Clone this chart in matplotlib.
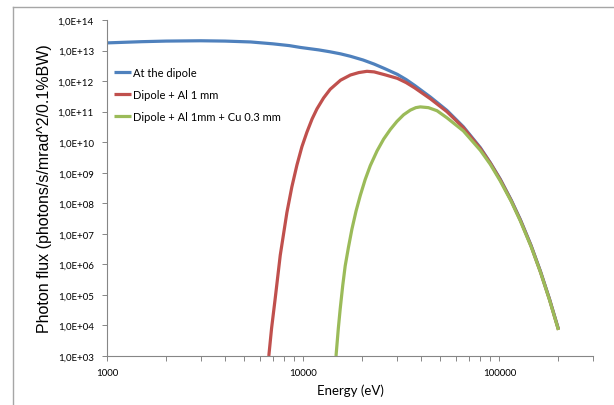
import matplotlib

matplotlib.use("Agg")
import matplotlib.pyplot as plt
import numpy as np
from matplotlib.lines import Line2D
from matplotlib.ticker import FixedLocator, FuncFormatter, LogLocator, NullFormatter

# values (energy in eV, flux in photons/s/mrad^2/0.1%BW)
e_dipole = [1000, 1500, 2000, 3000, 4000, 5400, 7000, 8500, 9700, 12000, 13700,
            15500, 17400, 20200, 23000, 26000, 30200, 33500, 37000, 44500, 54000,
            65500, 80000, 90000, 101000, 115000, 128000, 145000, 162000, 180000,
            200000]
f_dipole = [1.78e13, 1.95e13, 2.04e13, 2.09e13, 2.04e13, 1.91e13, 1.66e13, 1.45e13,
            1.26e13, 1.05e13, 9.1e12, 7.8e12, 6.5e12, 4.9e12, 3.6e12, 2.57e12,
            1.66e12, 1.12e12, 7.2e11, 3.0e11, 1.1e11, 3.2e10, 6.6e9, 2.1e9, 6.2e8,
            1.26e8, 2.9e7, 4.2e6, 5.9e5, 7.4e4, 7.6e3]

e_al = [6680, 6900, 7190, 7640, 8260, 8750, 9290, 9850, 10450, 11100, 11750,
        12700, 13730, 15500, 17400, 19200, 21130, 23000, 26000, 30200, 33500,
        37000, 44500, 54000, 65500, 80000, 90000, 101000, 115000, 128000, 145000,
        162000, 180000, 200000]
f_al = [1.0e3, 8.1e3, 7.1e4, 2.0e6, 5.0e7, 3.4e8, 1.78e9, 7.1e9, 2.14e10, 5.75e10,
        1.23e11, 2.8e11, 5.4e11, 1.07e12, 1.58e12, 1.9e12, 2.09e12, 2.0e12, 1.62e12,
        1.23e12, 8.9e11, 6.0e11, 2.63e11, 1.0e11, 2.99e10, 6.2e9, 2.04e9, 5.9e8,
        1.2e8, 2.75e7, 4.0e6, 5.6e5, 7.1e4, 7.2e3]

e_cu = [14700, 15100, 15440, 15900, 16370, 17000, 17710, 18600, 19530, 20700,
        21970, 23800, 25700, 27800, 30060, 32500, 35150, 37500, 39540, 43500, 48100,
        54000, 65500, 80000, 90000, 101000, 115000, 128000, 145000, 162000, 180000,
        200000]
f_cu = [1.0e3, 7.9e3, 3.5e4, 2.0e5, 8.9e5, 3.55e6, 1.41e7, 5.6e7, 1.78e8, 6.0e8,
        1.7e9, 5.2e9, 1.26e10, 2.6e10, 4.8e10, 7.9e10, 1.12e11, 1.35e11, 1.43e11,
        1.35e11, 1.07e11, 6.3e10, 2.34e10, 5.4e9, 1.86e9, 5.4e8, 1.14e8, 2.6e7,
        3.85e6, 5.5e5, 6.9e4, 7.1e3]

labels = ["At the dipole", "Dipole + Al 1 mm", "Dipole + Al 1mm + Cu 0.3 mm"]
colors = ["#4F81BD", "#C0504D", "#9BBB59"]
y_ticks = [10.0 ** k for k in range(3, 15)]
x_ticks = [1000, 10000, 100000]

GREY = "#868686"
TICK_FONT = ["Lato", "DejaVu Sans"]

fig = plt.figure(figsize=(6.14, 4.06), dpi=100)
# chart-area frame, cut off at the right and bottom like the screenshot
fx, fy = 12.5 / 614, 1 - 7.5 / 406
fig.add_artist(Line2D([fx, 1.0], [fy, fy], transform=fig.transFigure, color="#A6A6A6", lw=1.0))
fig.add_artist(Line2D([fx, fx], [0.0, fy], transform=fig.transFigure, color="#A6A6A6", lw=1.0))

ax = fig.add_axes([107 / 614, 1 - 357 / 406, (593 - 107) / 614, (357 - 21) / 406])

for (e, f), lab, c in zip([(e_dipole, f_dipole), (e_al, f_al), (e_cu, f_cu)], labels, colors):
    ax.plot(e, f, color=c, lw=2.3, label=lab, solid_capstyle="butt")

ax.set_xscale("log")
ax.set_yscale("log")
ax.set_xlim(1000, 300000)
ax.set_ylim(1e3, 1e14)

ax.yaxis.set_major_locator(FixedLocator(y_ticks))
ax.yaxis.set_minor_locator(FixedLocator([]))
ax.yaxis.set_major_formatter(FuncFormatter(lambda v, p: f"1,0E+{int(round(np.log10(v))):02d}"))
ax.xaxis.set_major_locator(FixedLocator(x_ticks))
ax.xaxis.set_minor_locator(LogLocator(base=10, subs=np.arange(2, 10)))
ax.xaxis.set_minor_formatter(NullFormatter())
ax.xaxis.set_major_formatter(FuncFormatter(lambda v, p: f"{int(v)}"))

for s in ["top", "right"]:
    ax.spines[s].set_visible(False)
for s in ["left", "bottom"]:
    ax.spines[s].set_color(GREY)
    ax.spines[s].set_linewidth(0.8)
ax.tick_params(which="both", direction="out", color=GREY, width=0.7, length=3.5,
               labelsize=7, pad=5)
ax.tick_params(axis="y", pad=6)
for t in ax.get_xticklabels() + ax.get_yticklabels():
    t.set_family(TICK_FONT)

ax.set_xlabel("Energy (eV)", fontsize=9.5, family=TICK_FONT, labelpad=5)
ax.set_ylabel("Photon flux (photons/s/mrad^2/0.1%BW)", fontsize=11.5,
              family=["Liberation Sans", "DejaVu Sans"], labelpad=4)

leg = ax.legend(loc="upper left", bbox_to_anchor=(0.0, 0.88), frameon=False,
                prop={"family": TICK_FONT, "size": 8}, handlelength=1.6,
                handletextpad=0.1, labelspacing=1.0, borderaxespad=0.2)

fig.savefig("out.png", dpi=100)
